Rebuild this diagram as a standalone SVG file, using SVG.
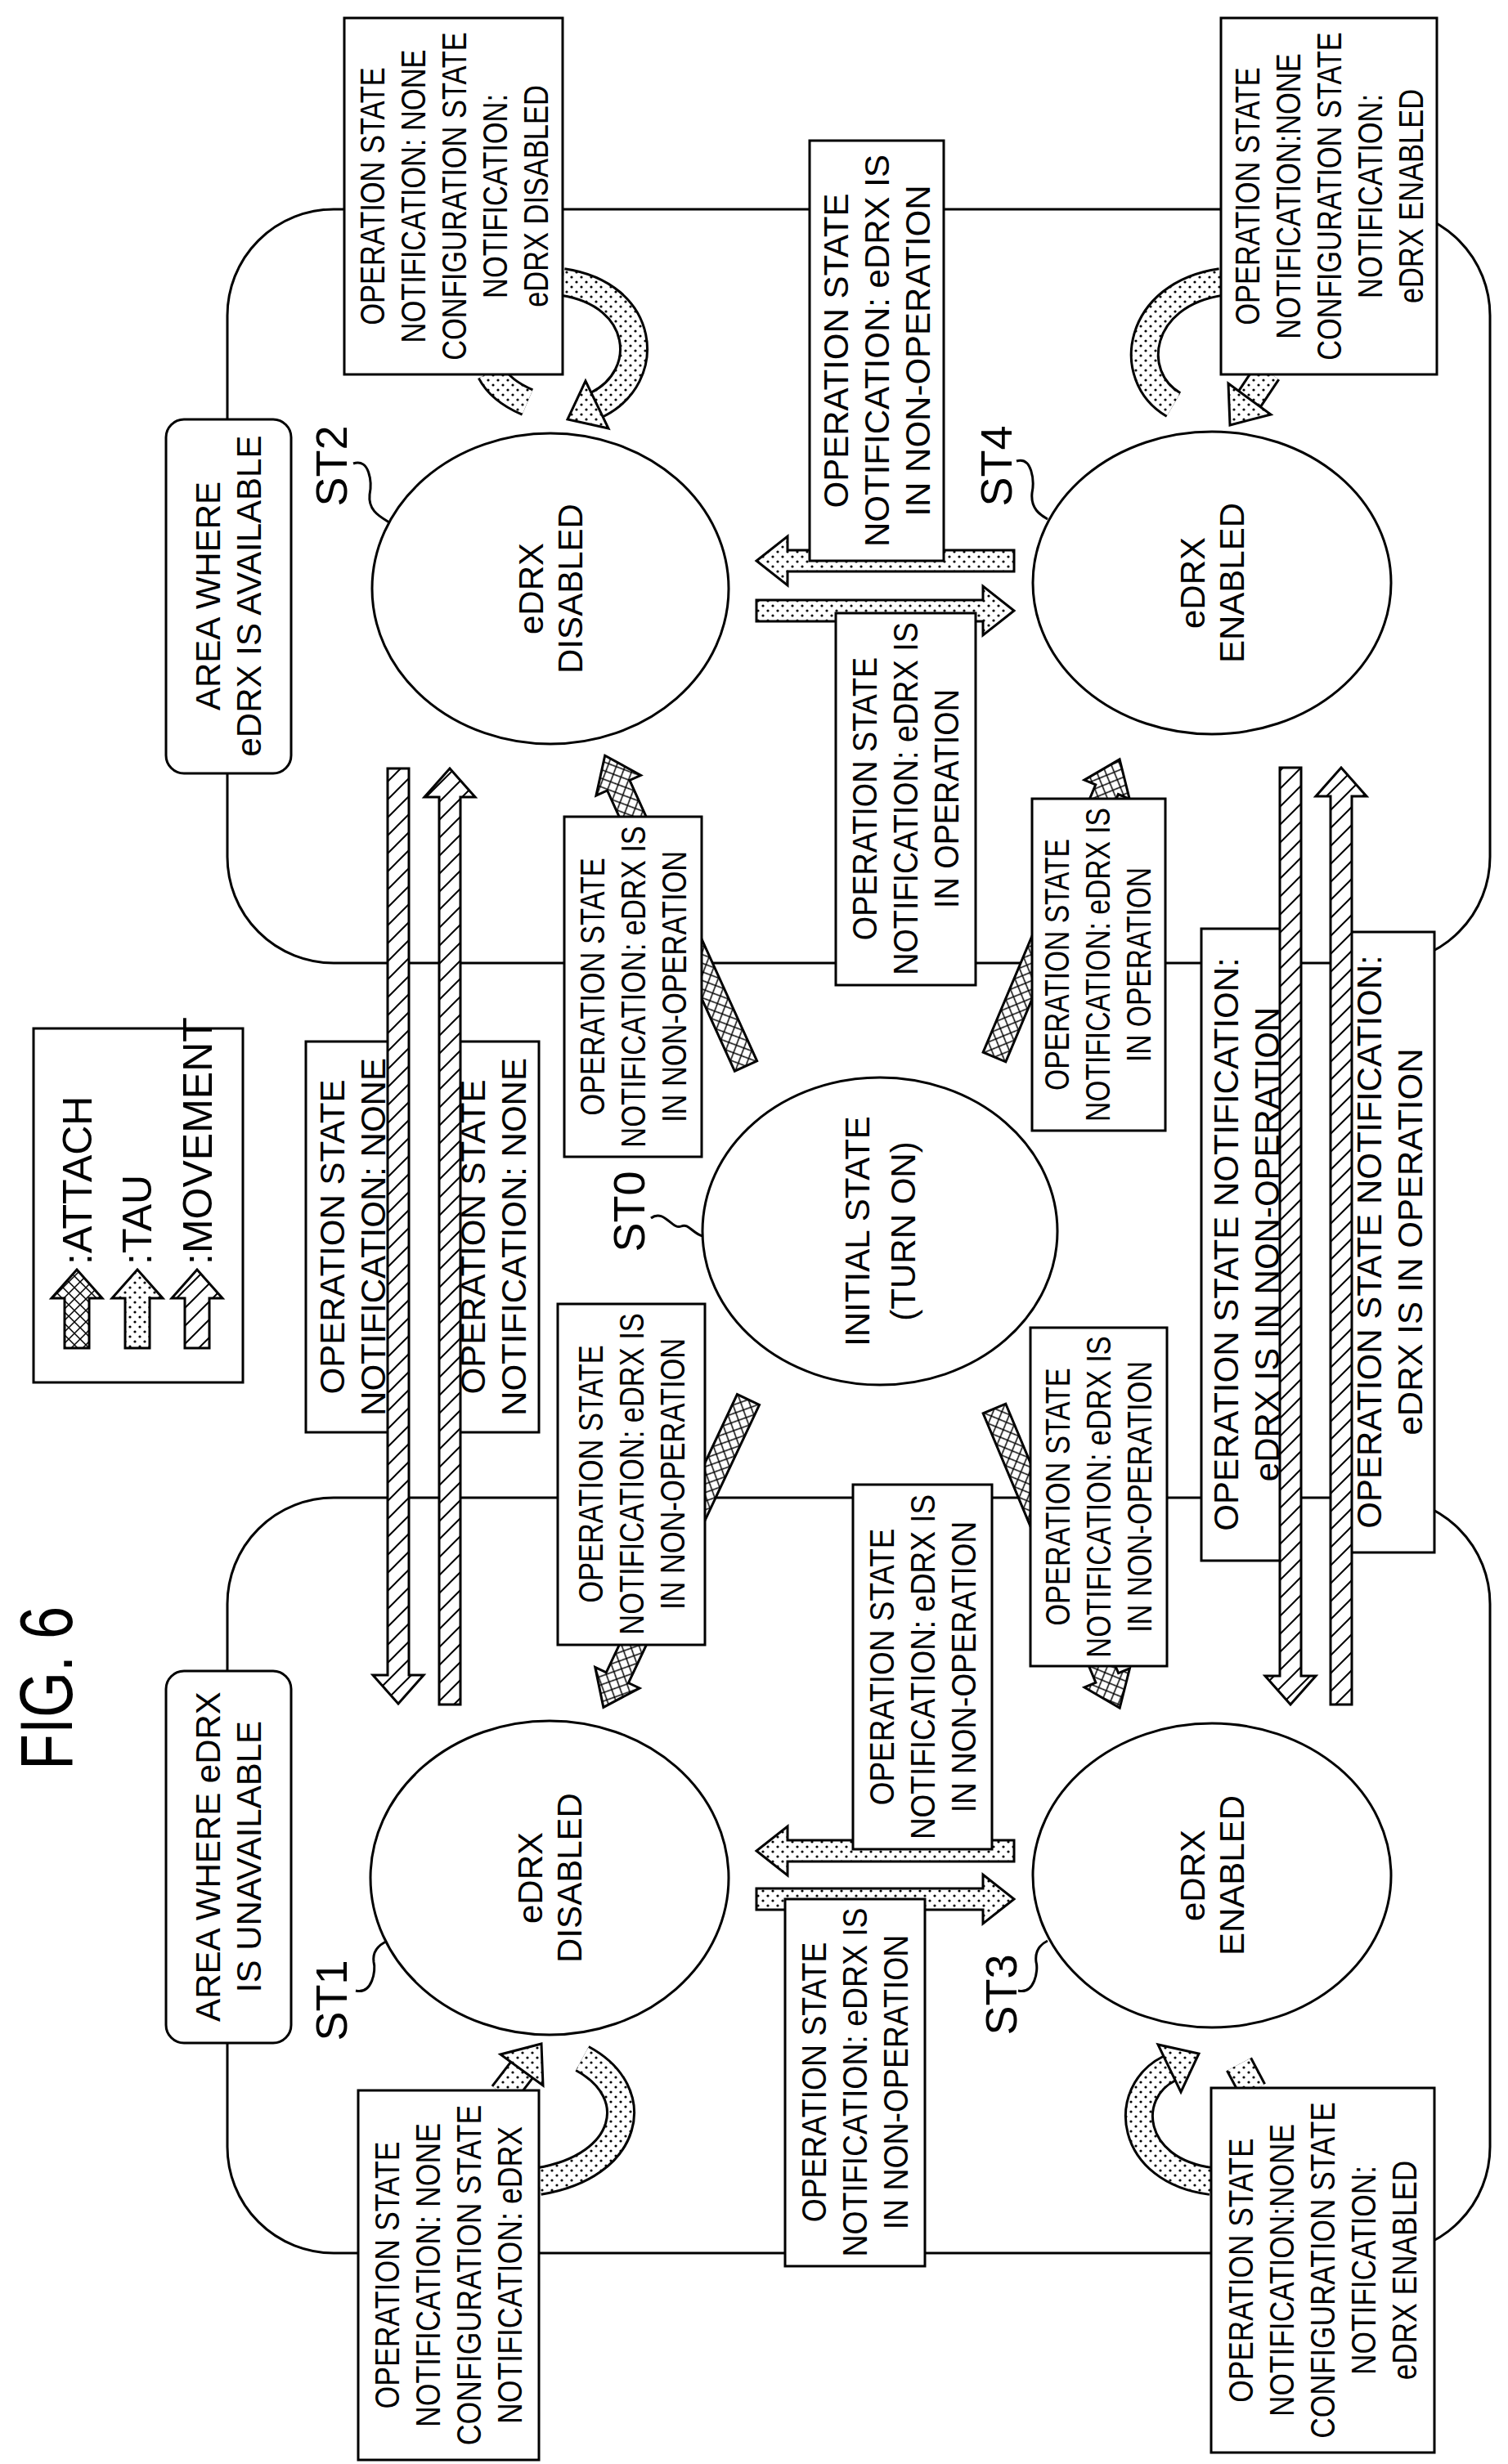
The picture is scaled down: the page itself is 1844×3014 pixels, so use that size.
<svg xmlns="http://www.w3.org/2000/svg" width="1844" height="3014" viewBox="0 0 1844 3014">
<style>
.ln{fill:none;stroke:#000;stroke-width:3}
.bx{fill:#fff;stroke:#000;stroke-width:3}
.t{font-family:"Liberation Sans",Arial,sans-serif;font-size:42px;fill:#000;text-anchor:middle;dominant-baseline:central}
.lab{font-family:"Liberation Sans",Arial,sans-serif;font-size:54px;fill:#000;text-anchor:middle}
.leg{font-family:"Liberation Sans",Arial,sans-serif;font-size:50px;fill:#000;text-anchor:start}
.tau{fill:url(#dots);stroke:#000;stroke-width:3}
.att{fill:url(#cross);stroke:#000;stroke-width:3}
.mov{fill:url(#hatch);stroke:#000;stroke-width:3}
.bandO{fill:none;stroke:#000;stroke-width:36}
.bandI{fill:none;stroke:url(#dots);stroke-width:30}
</style>
<defs>
<pattern id="dots" width="12" height="12" patternUnits="userSpaceOnUse"><rect width="12" height="12" fill="#fff"/><circle cx="3" cy="3" r="1.6" fill="#000"/><circle cx="9" cy="9" r="1.6" fill="#000"/></pattern>
<pattern id="cross" width="14" height="14" patternUnits="userSpaceOnUse"><rect width="14" height="14" fill="#fff"/><path d="M0 0L14 14M14 0L0 14" stroke="#000" stroke-width="1.5"/></pattern>
<pattern id="hatch" width="22" height="22" patternUnits="userSpaceOnUse"><rect width="22" height="22" fill="#fff"/><path d="M0 22L22 0M-5 5L5 -5M17 27L27 17" stroke="#000" stroke-width="2"/></pattern>
</defs>
<rect width="1844" height="3014" fill="#fff"/>

<text class="lab" style="font-size:90px" transform="translate(88,2065) rotate(-90) scale(0.8,1)">FIG. 6</text>

<g id="legend">
<rect class="bx" x="41" y="1258" width="256" height="433"/>
<polygon class="att" points="79,1649 109,1649 109,1588 125,1588 94,1553 63,1588 79,1588"/>
<polygon class="tau" points="153,1649 183,1649 183,1588 199,1588 168,1553 137,1588 153,1588"/>
<polygon class="mov" points="226,1649 256,1649 256,1588 272,1588 241,1553 210,1588 226,1588"/>
<text class="leg" transform="translate(112,1547) rotate(-90)">:ATTACH</text>
<text class="leg" transform="translate(185,1547) rotate(-90)">:TAU</text>
<text class="leg" transform="translate(259,1547) rotate(-90)">:MOVEMENT</text>
</g>

<g id="area-available">
<rect class="ln" x="278" y="256" width="1544" height="922" rx="130"/>
<rect class="bx" x="203" y="513" width="153" height="433" rx="22"/>
<text class="t" transform="translate(279,729) rotate(-90)"><tspan x="0" y="-25">AREA WHERE</tspan><tspan x="0" y="25">eDRX IS AVAILABLE</tspan></text>
</g>
<g id="area-unavailable">
<rect class="ln" x="278" y="1832" width="1544" height="924" rx="130"/>
<rect class="bx" x="203" y="2044" width="153" height="455" rx="22"/>
<text class="t" transform="translate(279,2271) rotate(-90)"><tspan x="0" y="-25">AREA WHERE eDRX</tspan><tspan x="0" y="25">IS UNAVAILABLE</tspan></text>
</g>

<g id="connectors">
<!-- attach arrows -->
<polygon class="att" transform="translate(912,1304) rotate(-114.4)" points="0,-15 377,-15 377,-30 417,0 377,30 377,15 0,15"/>
<polygon class="att" transform="translate(1216,1293) rotate(-67.2)" points="0,-15 355,-15 355,-30 395,0 355,30 355,15 0,15"/>
<polygon class="att" transform="translate(915,1712) rotate(115.2)" points="0,-15 376,-15 376,-30 416,0 376,30 376,15 0,15"/>
<polygon class="att" transform="translate(1216,1723) rotate(67.3)" points="0,-15 357,-15 357,-30 397,0 357,30 357,15 0,15"/>
<!-- tau arrows -->
<polygon class="tau" points="1240,673 1240,699 963,699 963,716 925,686 963,656 963,673"/>
<polygon class="tau" points="925,734 925,760 1202,760 1202,777 1240,747 1202,717 1202,734"/>
<polygon class="tau" points="1240,2251 1240,2277 963,2277 963,2294 925,2264 963,2234 963,2251"/>
<polygon class="tau" points="925,2310 925,2336 1202,2336 1202,2353 1240,2323 1202,2293 1202,2310"/>
<!-- self loops -->
<path class="bandO" d="M688 345 C790 360 800 460 730 495"/><path class="bandI" d="M688 345 C790 360 800 460 730 495"/>
<polygon class="tau" points="744,524 694,513 716,466"/>
<path class="bandO" d="M600 455 Q612 478 645 492"/><path class="bandI" d="M600 455 Q612 478 645 492"/>
<path class="bandO" d="M1493 345 C1390 360 1375 460 1435 495"/><path class="bandI" d="M1493 345 C1390 360 1375 460 1435 495"/>
<path class="bandO" d="M1550 455 L1528 488"/><path class="bandI" d="M1550 455 L1528 488"/>
<polygon class="tau" points="1554,507 1504,520 1502,469"/>
<path class="bandO" d="M659 2668 C770 2650 790 2560 712 2518"/><path class="bandI" d="M659 2668 C770 2650 790 2560 712 2518"/>
<path class="bandO" d="M615 2562 L638 2532"/><path class="bandI" d="M615 2562 L638 2532"/>
<polygon class="tau" points="664,2551 662,2500 612,2513"/>
<path class="bandO" d="M1481 2668 C1380 2655 1370 2560 1430 2530"/><path class="bandI" d="M1481 2668 C1380 2655 1370 2560 1430 2530"/>
<polygon class="tau" points="1444,2559 1466,2512 1416,2501"/>
<path class="bandO" d="M1532 2557 L1515 2525"/><path class="bandI" d="M1532 2557 L1515 2525"/>
<!-- leaders -->
<path class="ln" stroke-width="2.5" d="M432 567 C452 560 455 590 452 605 C450 625 465 632 476 639"/>
<path class="ln" stroke-width="2.5" d="M1243 564 C1262 558 1265 588 1262 603 C1260 622 1272 630 1281 635"/>
<path class="ln" stroke-width="2.5" d="M435 2435 C455 2440 460 2410 457 2400 C455 2385 465 2378 474 2374"/>
<path class="ln" stroke-width="2.5" d="M1245 2435 C1265 2440 1270 2410 1267 2400 C1265 2385 1273 2378 1281 2374"/>
<path class="ln" stroke-width="2.5" d="M796 1490 C812 1478 822 1505 833 1500 C842 1496 846 1508 859 1512"/>
</g>

<g id="ST0"><ellipse class="bx" cx="1076" cy="1506" rx="217" ry="188"/>
<text class="t" transform="translate(1076,1506) rotate(-90)"><tspan x="0" y="-28">INITIAL STATE</tspan><tspan x="0" y="28">(TURN ON)</tspan></text>
<text class="lab" transform="translate(788,1482) rotate(-90)">ST0</text></g>
<g id="ST1"><ellipse class="bx" cx="672" cy="2297" rx="219" ry="192"/>
<text class="t" transform="translate(672,2297) rotate(-90)"><tspan x="0" y="-24">eDRX</tspan><tspan x="0" y="24">DISABLED</tspan></text>
<text class="lab" transform="translate(424,2447) rotate(-90)">ST1</text></g>
<g id="ST2"><ellipse class="bx" cx="673" cy="720" rx="218" ry="190"/>
<text class="t" transform="translate(673,720) rotate(-90)"><tspan x="0" y="-24">eDRX</tspan><tspan x="0" y="24">DISABLED</tspan></text>
<text class="lab" transform="translate(424,570) rotate(-90)">ST2</text></g>
<g id="ST3"><ellipse class="bx" cx="1482" cy="2294" rx="219" ry="186"/>
<text class="t" transform="translate(1482,2294) rotate(-90)"><tspan x="0" y="-24">eDRX</tspan><tspan x="0" y="24">ENABLED</tspan></text>
<text class="lab" transform="translate(1243,2440) rotate(-90)">ST3</text></g>
<g id="ST4"><ellipse class="bx" cx="1482" cy="713" rx="219" ry="185"/>
<text class="t" transform="translate(1482,713) rotate(-90)"><tspan x="0" y="-24">eDRX</tspan><tspan x="0" y="24">ENABLED</tspan></text>
<text class="lab" transform="translate(1237,570) rotate(-90)">ST4</text></g>

<g id="box-st2-loop"><rect class="bx" x="421" y="22" width="267" height="436"/>
<text class="t" transform="translate(555,240) rotate(-90) scale(0.82,1)"><tspan x="0" y="-100">OPERATION STATE</tspan><tspan x="0" y="-50">NOTIFICATION: NONE</tspan><tspan x="0" y="0">CONFIGURATION STATE</tspan><tspan x="0" y="50">NOTIFICATION:</tspan><tspan x="0" y="100">eDRX DISABLED</tspan></text></g>
<g id="box-st4-loop"><rect class="bx" x="1493" y="22" width="264" height="436"/>
<text class="t" transform="translate(1625,240) rotate(-90) scale(0.82,1)"><tspan x="0" y="-100">OPERATION STATE</tspan><tspan x="0" y="-50">NOTIFICATION:NONE</tspan><tspan x="0" y="0">CONFIGURATION STATE</tspan><tspan x="0" y="50">NOTIFICATION:</tspan><tspan x="0" y="100">eDRX ENABLED</tspan></text></g>
<g id="box-st1-loop"><rect class="bx" x="438" y="2557" width="221" height="452"/>
<text class="t" transform="translate(548,2783) rotate(-90) scale(0.85,1)"><tspan x="0" y="-75">OPERATION STATE</tspan><tspan x="0" y="-25">NOTIFICATION: NONE</tspan><tspan x="0" y="25">CONFIGURATION STATE</tspan><tspan x="0" y="75">NOTIFICATION: eDRX</tspan></text></g>
<g id="box-st3-loop"><rect class="bx" x="1481" y="2554" width="273" height="446"/>
<text class="t" transform="translate(1617,2777) rotate(-90) scale(0.84,1)"><tspan x="0" y="-100">OPERATION STATE</tspan><tspan x="0" y="-50">NOTIFICATION:NONE</tspan><tspan x="0" y="0">CONFIGURATION STATE</tspan><tspan x="0" y="50">NOTIFICATION:</tspan><tspan x="0" y="100">eDRX ENABLED</tspan></text></g>

<g id="box-st4-st2"><rect class="bx" x="990" y="172" width="164" height="514"/>
<text class="t" transform="translate(1072,429) rotate(-90)"><tspan x="0" y="-50">OPERATION STATE</tspan><tspan x="0" y="0">NOTIFICATION: eDRX IS</tspan><tspan x="0" y="50">IN NON-OPERATION</tspan></text></g>
<g id="box-st2-st4"><rect class="bx" x="1022" y="750" width="171" height="455"/>
<text class="t" transform="translate(1107,977) rotate(-90) scale(0.9,1)"><tspan x="0" y="-50">OPERATION STATE</tspan><tspan x="0" y="0">NOTIFICATION: eDRX IS</tspan><tspan x="0" y="50">IN OPERATION</tspan></text></g>
<g id="box-st3-st1"><rect class="bx" x="1043" y="1816" width="170" height="446"/>
<text class="t" transform="translate(1128,2039) rotate(-90) scale(0.88,1)"><tspan x="0" y="-50">OPERATION STATE</tspan><tspan x="0" y="0">NOTIFICATION: eDRX IS</tspan><tspan x="0" y="50">IN NON-OPERATION</tspan></text></g>
<g id="box-st1-st3"><rect class="bx" x="960" y="2323" width="171" height="449"/>
<text class="t" transform="translate(1045,2547) rotate(-90) scale(0.89,1)"><tspan x="0" y="-50">OPERATION STATE</tspan><tspan x="0" y="0">NOTIFICATION: eDRX IS</tspan><tspan x="0" y="50">IN NON-OPERATION</tspan></text></g>
<g id="box-st0-st2"><rect class="bx" x="690" y="999" width="168" height="416"/>
<text class="t" transform="translate(774,1207) rotate(-90) scale(0.82,1)"><tspan x="0" y="-50">OPERATION STATE</tspan><tspan x="0" y="0">NOTIFICATION: eDRX IS</tspan><tspan x="0" y="50">IN NON-OPERATION</tspan></text></g>
<g id="box-st0-st4"><rect class="bx" x="1262" y="977" width="163" height="406"/>
<text class="t" transform="translate(1343,1180) rotate(-90) scale(0.8,1)"><tspan x="0" y="-50">OPERATION STATE</tspan><tspan x="0" y="0">NOTIFICATION: eDRX IS</tspan><tspan x="0" y="50">IN OPERATION</tspan></text></g>
<g id="box-st0-st1"><rect class="bx" x="682" y="1595" width="180" height="417"/>
<text class="t" transform="translate(772,1803) rotate(-90) scale(0.82,1)"><tspan x="0" y="-50">OPERATION STATE</tspan><tspan x="0" y="0">NOTIFICATION: eDRX IS</tspan><tspan x="0" y="50">IN NON-OPERATION</tspan></text></g>
<g id="box-st0-st3"><rect class="bx" x="1260" y="1624" width="167" height="414"/>
<text class="t" transform="translate(1343,1831) rotate(-90) scale(0.82,1)"><tspan x="0" y="-50">OPERATION STATE</tspan><tspan x="0" y="0">NOTIFICATION: eDRX IS</tspan><tspan x="0" y="50">IN NON-OPERATION</tspan></text></g>

<g id="box-mov-1"><rect class="bx" x="374" y="1274" width="114" height="478"/>
<text class="t" transform="translate(431,1513) rotate(-90)"><tspan x="0" y="-25">OPERATION STATE</tspan><tspan x="0" y="25">NOTIFICATION: NONE</tspan></text></g>
<g id="box-mov-2"><rect class="bx" x="547" y="1274" width="112" height="478"/>
<text class="t" transform="translate(603,1513) rotate(-90)"><tspan x="0" y="-25">OPERATION STATE</tspan><tspan x="0" y="25">NOTIFICATION: NONE</tspan></text></g>
<g id="box-mov-3"><rect class="bx" x="1469" y="1136" width="111" height="773"/>
<text class="t" transform="translate(1524,1522) rotate(-90)"><tspan x="0" y="-25">OPERATION STATE NOTIFICATION:</tspan><tspan x="0" y="25">eDRX IS IN NON-OPERATION</tspan></text></g>
<g id="box-mov-4"><rect class="bx" x="1644" y="1140" width="110" height="759"/>
<text class="t" transform="translate(1699,1519) rotate(-90)"><tspan x="0" y="-25">OPERATION STATE NOTIFICATION:</tspan><tspan x="0" y="25">eDRX IS IN OPERATION</tspan></text></g>

<g id="movement-arrows">
<polygon class="mov" points="474,940 500,940 500,2049 518,2049 487,2084 456,2049 474,2049"/>
<polygon class="mov" points="537,2085 563,2085 563,975 581,975 550,940 519,975 537,975"/>
<polygon class="mov" points="1565,939 1591,939 1591,2050 1609,2050 1578,2085 1547,2050 1565,2050"/>
<polygon class="mov" points="1627,2085 1653,2085 1653,974 1671,974 1640,939 1609,974 1627,974"/>
</g>
</svg>
